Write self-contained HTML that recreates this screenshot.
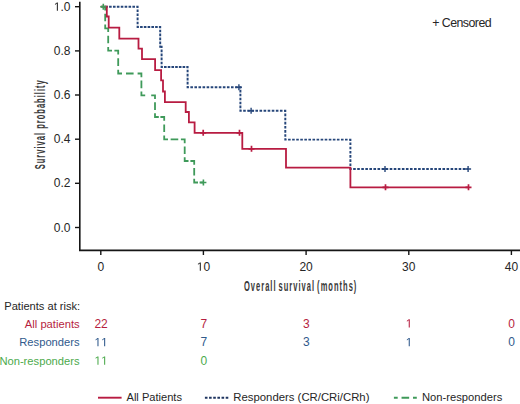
<!DOCTYPE html>
<html><head><meta charset="utf-8"><style>
html,body{margin:0;padding:0;background:#fff;}
body{width:520px;height:404px;overflow:hidden;}
svg{display:block;font-family:"Liberation Sans",sans-serif;}
</style></head><body>
<svg width="520" height="404" viewBox="0 0 520 404"><path d="M79.8,1.7 V250.4 H520" stroke="#151515" stroke-width="1.6" fill="none"/><path d="M75,6.7H80" stroke="#151515" stroke-width="1.4"/><text x="53.82" y="10.80" font-size="12" fill="#262626"> .0</text><path d="M56.84,3.55 L54.97,4.88 L54.97,3.89 L56.92,2.54 L57.90,2.54 L57.90,10.80 L56.84,10.80Z" fill="#262626"/><path d="M75,50.9H80" stroke="#151515" stroke-width="1.4"/><text x="53.82" y="54.96" font-size="12" fill="#262626">0.8</text><path d="M75,95.0H80" stroke="#151515" stroke-width="1.4"/><text x="53.82" y="99.12" font-size="12" fill="#262626">0.6</text><path d="M75,139.2H80" stroke="#151515" stroke-width="1.4"/><text x="53.82" y="143.28" font-size="12" fill="#262626">0.4</text><path d="M75,183.3H80" stroke="#151515" stroke-width="1.4"/><text x="53.82" y="187.44" font-size="12" fill="#262626">0.2</text><path d="M75,227.5H80" stroke="#151515" stroke-width="1.4"/><text x="53.82" y="231.60" font-size="12" fill="#262626">0.0</text><path d="M100.8,250.4V255" stroke="#151515" stroke-width="1.4"/><text x="97.46" y="270.70" font-size="12" fill="#262626">0</text><path d="M203.4,250.4V255" stroke="#151515" stroke-width="1.4"/><text x="196.78" y="270.70" font-size="12" fill="#262626"> 0</text><path d="M199.79,263.45 L197.93,264.78 L197.93,263.79 L199.88,262.44 L200.85,262.44 L200.85,270.70 L199.79,270.70Z" fill="#262626"/><path d="M306.1,250.4V255" stroke="#151515" stroke-width="1.4"/><text x="299.43" y="270.70" font-size="12" fill="#262626">20</text><path d="M408.8,250.4V255" stroke="#151515" stroke-width="1.4"/><text x="402.08" y="270.70" font-size="12" fill="#262626">30</text><path d="M511.4,250.4V255" stroke="#151515" stroke-width="1.4"/><text x="504.73" y="270.70" font-size="12" fill="#262626">40</text><text transform="translate(244,290.7) scale(0.5,1)" font-size="15" font-weight="bold" letter-spacing="2.05" word-spacing="-2.2" fill="#383838">Overall survival (months)</text><text transform="translate(45.2,169.3) rotate(-90) scale(0.5,1)" font-size="15" font-weight="bold" letter-spacing="2.05" fill="#383838">Survival probability</text><text x="432.2" y="26.5" font-size="12.4" fill="#262626" letter-spacing="-0.55">+ Censored</text><path d="M102.60,6.70 L103.90,6.70M105.19,6.70 L107.79,6.70M109.08,6.70 L111.68,6.70M112.97,6.70 L115.57,6.70M116.86,6.70 L119.46,6.70M120.74,6.70 L123.34,6.70M124.63,6.70 L127.23,6.70M128.52,6.70 L131.12,6.70M132.41,6.70 L135.01,6.70M136.30,6.70 L137.60,6.70 L137.60,8.00M137.60,9.46 L137.60,12.06M137.60,13.52 L137.60,16.12M137.60,17.58 L137.60,20.18M137.60,21.64 L137.60,24.24M137.60,25.70 L137.60,27.00 L138.90,27.00M140.07,27.00 L142.67,27.00M143.83,27.00 L146.43,27.00M147.60,27.00 L150.20,27.00M151.37,27.00 L153.97,27.00M155.13,27.00 L157.73,27.00M158.90,27.00 L160.20,27.00 L160.20,28.30M160.20,29.66 L160.20,32.26M160.20,33.62 L160.20,36.22M160.20,37.58 L160.20,40.18M160.20,41.54 L160.20,44.14M160.20,45.50 L160.20,46.80 L161.60,46.80 L161.60,48.10M161.60,49.54 L161.60,52.14M161.60,53.58 L161.60,56.18M161.60,57.62 L161.60,60.22M161.60,61.66 L161.60,64.26M161.60,65.70 L161.60,67.00 L162.90,67.00M164.01,67.00 L166.61,67.00M167.73,67.00 L170.33,67.00M171.44,67.00 L174.04,67.00M175.16,67.00 L177.76,67.00M178.87,67.00 L181.47,67.00M182.59,67.00 L185.19,67.00M186.30,67.00 L187.60,67.00 L187.60,68.30M187.60,69.74 L187.60,72.34M187.60,73.78 L187.60,76.38M187.60,77.82 L187.60,80.42M187.60,81.86 L187.60,84.46M187.60,85.90 L187.60,87.20 L188.90,87.20M190.36,87.20 L192.96,87.20M194.42,87.20 L197.02,87.20M198.48,87.20 L201.08,87.20M202.55,87.20 L205.15,87.20M206.61,87.20 L209.21,87.20M210.67,87.20 L213.27,87.20M214.73,87.20 L217.33,87.20M218.79,87.20 L221.39,87.20M222.85,87.20 L225.45,87.20M226.92,87.20 L229.52,87.20M230.98,87.20 L233.58,87.20M235.04,87.20 L237.64,87.20M239.10,87.20 L240.40,87.20 L240.40,88.50M240.40,89.83 L240.40,92.43M240.40,93.77 L240.40,96.37M240.40,97.70 L240.40,100.30M240.40,101.63 L240.40,104.23M240.40,105.57 L240.40,108.17M240.40,109.50 L240.40,110.80 L241.70,110.80M243.18,110.80 L245.78,110.80M247.26,110.80 L249.86,110.80M251.35,110.80 L253.95,110.80M255.43,110.80 L258.03,110.80M259.51,110.80 L262.11,110.80M263.59,110.80 L266.19,110.80M267.67,110.80 L270.27,110.80M271.75,110.80 L274.35,110.80M275.84,110.80 L278.44,110.80M279.92,110.80 L282.52,110.80M284.00,110.80 L285.30,110.80 L285.30,112.10M285.30,113.61 L285.30,116.21M285.30,117.73 L285.30,120.33M285.30,121.84 L285.30,124.44M285.30,125.96 L285.30,128.56M285.30,130.07 L285.30,132.67M285.30,134.19 L285.30,136.79M285.30,138.30 L285.30,139.60 L286.60,139.60M288.07,139.60 L290.67,139.60M292.14,139.60 L294.74,139.60M296.21,139.60 L298.81,139.60M300.27,139.60 L302.88,139.60M304.34,139.60 L306.94,139.60M308.41,139.60 L311.01,139.60M312.48,139.60 L315.08,139.60M316.55,139.60 L319.15,139.60M320.62,139.60 L323.22,139.60M324.69,139.60 L327.29,139.60M328.76,139.60 L331.36,139.60M332.82,139.60 L335.43,139.60M336.89,139.60 L339.49,139.60M340.96,139.60 L343.56,139.60M345.03,139.60 L347.63,139.60M349.10,139.60 L350.40,139.60 L350.40,140.90M350.40,142.50 L350.40,145.10M350.40,146.70 L350.40,149.30M350.40,150.90 L350.40,153.50M350.40,155.10 L350.40,157.70M350.40,159.30 L350.40,161.90M350.40,163.50 L350.40,166.10M350.40,167.70 L350.40,169.00 L351.70,169.00M353.16,169.00 L355.76,169.00M357.22,169.00 L359.82,169.00M361.28,169.00 L363.88,169.00M365.33,169.00 L367.93,169.00M369.39,169.00 L371.99,169.00M373.45,169.00 L376.05,169.00M377.51,169.00 L380.11,169.00M381.57,169.00 L384.17,169.00M385.63,169.00 L388.23,169.00M389.69,169.00 L392.29,169.00M393.74,169.00 L396.34,169.00M397.80,169.00 L400.40,169.00M401.86,169.00 L404.46,169.00M405.92,169.00 L408.52,169.00M409.98,169.00 L412.58,169.00M414.04,169.00 L416.64,169.00M418.10,169.00 L420.70,169.00M422.16,169.00 L424.76,169.00M426.21,169.00 L428.81,169.00M430.27,169.00 L432.87,169.00M434.33,169.00 L436.93,169.00M438.39,169.00 L440.99,169.00M442.45,169.00 L445.05,169.00M446.51,169.00 L449.11,169.00M450.57,169.00 L453.17,169.00M454.62,169.00 L457.22,169.00M458.68,169.00 L461.28,169.00M462.74,169.00 L465.34,169.00M466.80,169.00 L468.10,169.00" stroke="#26467a" stroke-width="1.95" fill="none"/><path d="M100.80,6.70 L105.20,6.70 L105.20,10.50M105.20,13.70 L105.20,21.30M105.20,24.50 L105.20,28.30 L108.20,28.30 L108.20,32.10M108.20,35.70 L108.20,43.30M108.20,46.90 L108.20,50.70 L112.00,50.70M114.40,50.70 L118.20,50.70 L118.20,54.50M118.20,58.30 L118.20,65.90M118.20,69.70 L118.20,73.50 L122.00,73.50M126.00,73.50 L133.60,73.50M137.60,73.50 L141.40,73.50 L141.40,77.30M141.40,80.60 L141.40,88.20M141.40,91.50 L141.40,95.30 L145.20,95.30M151.20,95.30 L155.00,95.30 L155.00,99.10M155.00,102.35 L155.00,109.95M155.00,113.20 L155.00,117.00 L158.80,117.00M160.40,117.00 L164.20,117.00 L164.20,120.80M164.20,124.40 L164.20,132.00M164.20,135.60 L164.20,139.40 L168.00,139.40M170.65,139.40 L178.25,139.40M180.90,139.40 L184.70,139.40 L184.70,143.20M184.70,146.40 L184.70,154.00M184.70,157.20 L184.70,161.00 L188.50,161.00M190.40,161.00 L194.20,161.00 L194.20,164.80M194.20,167.95 L194.20,175.55M194.20,178.70 L194.20,182.50 L198.00,182.50M199.60,182.50 L203.40,182.50" stroke="#3f9a5a" stroke-width="1.8" fill="none"/><path d="M100.8,6.7 L106.8,6.7 L106.8,16.5 L108.7,16.5 L108.7,27.6 L119.3,27.6 L119.3,38.6 L138.5,38.6 L138.5,48.7 L142.0,48.7 L142.0,59.1 L155.1,59.1 L155.1,70.2 L161.1,70.2 L161.1,80.4 L163.0,80.4 L163.0,91.5 L164.9,91.5 L164.9,102.1 L185.7,102.1 L185.7,112.0 L188.9,112.0 L188.9,122.4 L194.6,122.4 L194.6,132.8 L242.3,132.8 L242.3,148.8 L286.0,148.8 L286.0,167.6 L350.4,167.6 L350.4,187.3 L468.5,187.3" stroke="#b81c42" stroke-width="1.8" fill="none"/><path d="M235.9,87.2h6M238.9,84.2v6" stroke="#26467a" stroke-width="1.4" fill="none"/><path d="M248.1,110.8h6M251.1,107.8v6" stroke="#26467a" stroke-width="1.4" fill="none"/><path d="M382.0,169.0h6M385.0,166.0v6" stroke="#26467a" stroke-width="1.4" fill="none"/><path d="M465.1,169.0h6M468.1,166.0v6" stroke="#26467a" stroke-width="1.4" fill="none"/><path d="M200.2,132.8h6M203.2,129.8v6" stroke="#b81c42" stroke-width="1.7" fill="none"/><path d="M236.5,132.8h6M239.5,129.8v6" stroke="#b81c42" stroke-width="1.7" fill="none"/><path d="M248.5,148.8h6M251.5,145.8v6" stroke="#b81c42" stroke-width="1.7" fill="none"/><path d="M382.5,187.3h6M385.5,184.3v6" stroke="#b81c42" stroke-width="1.7" fill="none"/><path d="M465.5,187.3h6M468.5,184.3v6" stroke="#b81c42" stroke-width="1.7" fill="none"/><path d="M100.3,6.7h6M103.3,3.7v6" stroke="#3f9a5a" stroke-width="1.6" fill="none"/><path d="M200.4,182.5h6M203.4,179.5v6" stroke="#3f9a5a" stroke-width="1.6" fill="none"/><text x="4.3" y="309.6" font-size="11.1" fill="#262626">Patients at risk:</text><text x="79.6" y="327.6" font-size="11.2" fill="#b61e40" text-anchor="end">All patients</text><text x="94.43" y="327.60" font-size="12" fill="#b61e40">22</text><text x="200.41" y="327.60" font-size="12" fill="#b61e40">7</text><text x="303.06" y="327.60" font-size="12" fill="#b61e40">3</text><text x="405.71" y="327.60" font-size="12" fill="#b61e40"> </text><path d="M408.73,320.35 L406.87,321.68 L406.87,320.69 L408.82,319.34 L409.79,319.34 L409.79,327.60 L408.73,327.60Z" fill="#b61e40"/><text x="508.36" y="327.60" font-size="12" fill="#b61e40">0</text><text x="79.6" y="346.3" font-size="11.2" fill="#305a8c" text-anchor="end">Responders</text><text x="94.43" y="346.30" font-size="12" fill="#305a8c">  </text><path d="M97.44,339.05 L95.58,340.38 L95.58,339.39 L97.53,338.04 L98.50,338.04 L98.50,346.30 L97.44,346.30Z" fill="#305a8c"/><path d="M104.12,339.05 L102.25,340.38 L102.25,339.39 L104.21,338.04 L105.18,338.04 L105.18,346.30 L104.12,346.30Z" fill="#305a8c"/><text x="200.41" y="346.30" font-size="12" fill="#305a8c">7</text><text x="303.06" y="346.30" font-size="12" fill="#305a8c">3</text><text x="405.71" y="346.30" font-size="12" fill="#305a8c"> </text><path d="M408.73,339.05 L406.87,340.38 L406.87,339.39 L408.82,338.04 L409.79,338.04 L409.79,346.30 L408.73,346.30Z" fill="#305a8c"/><text x="508.36" y="346.30" font-size="12" fill="#305a8c">0</text><text x="79.6" y="364.7" font-size="11.2" fill="#4caa4c" text-anchor="end">Non-responders</text><text x="94.43" y="364.70" font-size="12" fill="#4caa4c">  </text><path d="M97.44,357.45 L95.58,358.78 L95.58,357.79 L97.53,356.44 L98.50,356.44 L98.50,364.70 L97.44,364.70Z" fill="#4caa4c"/><path d="M104.12,357.45 L102.25,358.78 L102.25,357.79 L104.21,356.44 L105.18,356.44 L105.18,364.70 L104.12,364.70Z" fill="#4caa4c"/><text x="200.41" y="364.70" font-size="12" fill="#4caa4c">0</text><path d="M98,397.7H121.6" stroke="#b81c42" stroke-width="1.9"/><text x="126.5" y="400.9" font-size="11.1" fill="#262626">All Patients</text><path d="M204.9,397.7H228.3" stroke="#1f3560" stroke-width="2" stroke-dasharray="2.6 1.56"/><text x="233.3" y="400.9" font-size="11.35" fill="#262626">Responders (CR/CRi/CRh)</text><path d="M393.90,397.70 L397.70,397.70M401.55,397.70 L409.15,397.70M413.00,397.70 L416.80,397.70" stroke="#3f9a5a" stroke-width="2" fill="none"/><text x="422" y="400.9" font-size="11.2" fill="#262626">Non-responders</text></svg>
</body></html>
